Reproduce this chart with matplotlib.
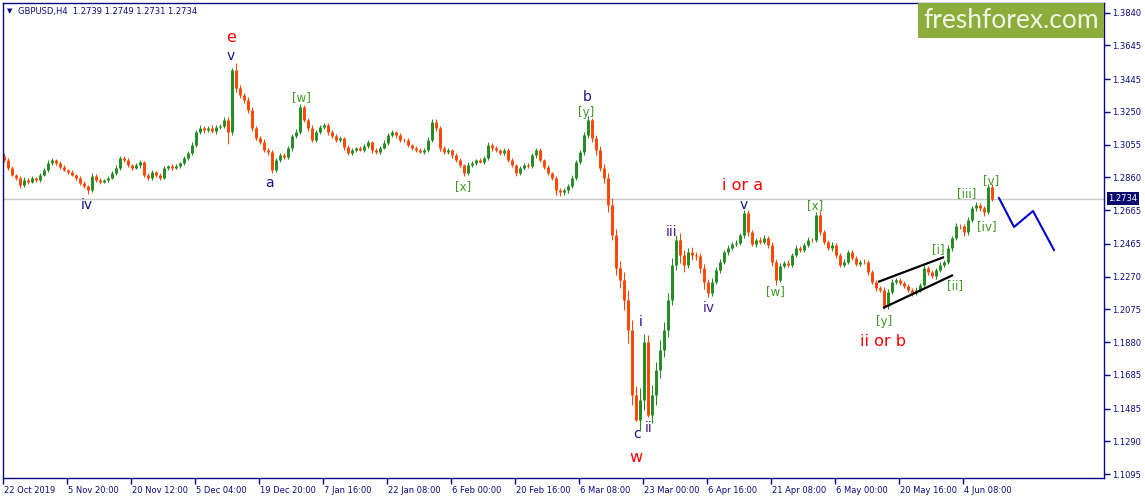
import numpy as np
import matplotlib
matplotlib.use("Agg")
import matplotlib.pyplot as plt
from matplotlib.patches import Rectangle
import matplotlib.transforms as mtransforms

# GBPUSD H4 closes (in pips, 1 value per 4 bars)
first_open = 12990
closes = [
    12964, 12916, 12875, 12857, 12815, 12845, 12833, 12857, 12845, 12875,
    12904, 12946, 12964, 12946, 12922, 12904, 12892, 12875, 12857, 12827,
    12809, 12785, 12869, 12845, 12833, 12845, 12857, 12886, 12916, 12975,
    12964, 12934, 12916, 12934, 12952, 12875, 12857, 12892, 12875, 12857,
    12916, 12928, 12916, 12928, 12946, 12975, 13005, 13053, 13130, 13154,
    13142, 13154, 13136, 13160, 13166, 13202, 13130, 13499, 13392, 13350,
    13321, 13261, 13154, 13095, 13071, 13023, 13011, 12904, 12964, 12993,
    12981, 13035, 13106, 13130, 13280, 13202, 13154, 13083, 13130, 13160,
    13172, 13130, 13106, 13083, 13095, 13041, 13005, 13023, 13035, 13023,
    13047, 13071, 13023, 13011, 13035, 13065, 13112, 13130, 13112, 13083,
    13083, 13053, 13035, 13023, 13011, 13023, 13083, 13190, 13154, 13035,
    13011, 13023, 12993, 12964, 12934, 12886, 12934, 12946, 12964, 12952,
    12975, 13053, 13035, 13023, 13005, 13023, 12964, 12934, 12886, 12916,
    12934, 12928, 12993, 13023, 12964, 12922, 12886, 12857, 12785, 12773,
    12785, 12809, 12857, 12952, 13011, 13112, 13200, 13095, 13023, 12916,
    12857, 12696, 12517, 12321, 12250, 12131, 11952, 11566, 11417, 11536,
    11880, 11447, 11566, 11714, 11833, 11952, 12131, 12339, 12487, 12399,
    12339, 12416, 12399, 12392, 12321, 12238, 12172, 12238, 12309, 12357,
    12416, 12440, 12464, 12470, 12517, 12647, 12535, 12464, 12488, 12476,
    12500, 12458, 12357, 12250, 12333, 12351, 12339, 12399, 12440, 12428,
    12458, 12488, 12488, 12636, 12535, 12476, 12440, 12458, 12399, 12339,
    12357, 12416, 12381, 12345, 12357, 12357, 12297, 12238, 12202, 12190,
    12095, 12178, 12238, 12250, 12232, 12214, 12190, 12172, 12190, 12220,
    12321, 12297, 12273, 12309, 12339, 12357, 12440, 12500, 12571, 12571,
    12535, 12607, 12678, 12696, 12678, 12654, 12803, 12734,
]
# wick lengths in pips above / below the body
wick_up = [
    15, 10, 12, 8, 10, 18, 10, 12, 8, 10,
    12, 15, 10, 8, 10, 12, 8, 10, 8, 10,
    10, 8, 15, 12, 10, 8, 10, 12, 15, 10,
    12, 10, 8, 10, 12, 8, 10, 12, 8, 10,
    10, 8, 12, 10, 8, 12, 10, 15, 12, 15,
    12, 10, 15, 12, 10, 15, 20, 12, 40, 15,
    15, 20, 15, 12, 10, 15, 12, 10, 12, 15,
    10, 12, 15, 20, 15, 12, 10, 15, 12, 10,
    12, 10, 15, 10, 12, 8, 10, 12, 8, 10,
    10, 12, 8, 10, 12, 15, 10, 12, 8, 10,
    10, 12, 8, 10, 12, 10, 15, 15, 20, 10,
    10, 12, 8, 10, 12, 8, 15, 10, 8, 12,
    15, 20, 12, 10, 8, 12, 10, 12, 8, 10,
    10, 12, 15, 10, 12, 8, 10, 8, 10, 12,
    12, 10, 15, 12, 15, 20, 25, 15, 20, 25,
    25, 30, 40, 35, 40, 50, 60, 60, 50, 70,
    50, 40, 60, 50, 60, 50, 40, 40, 30, 40,
    30, 25, 30, 20, 20, 25, 20, 25, 20, 15,
    15, 20, 12, 15, 15, 20, 20, 15, 12, 15,
    15, 12, 15, 20, 15, 12, 15, 12, 15, 12,
    12, 15, 12, 20, 25, 15, 12, 15, 12, 10,
    15, 12, 15, 12, 10, 15, 12, 10, 12, 10,
    15, 20, 15, 12, 10, 12, 10, 12, 15, 12,
    15, 12, 15, 12, 15, 10, 15, 12, 15, 12,
    12, 15, 12, 15, 10, 12, 20, 15,
]
wick_dn = [
    10, 12, 8, 15, 20, 10, 15, 8, 12, 10,
    8, 10, 12, 10, 12, 8, 10, 8, 12, 15,
    12, 25, 10, 12, 10, 8, 12, 8, 10, 12,
    10, 12, 10, 8, 20, 15, 10, 12, 10, 12,
    8, 10, 12, 8, 10, 10, 12, 10, 15, 10,
    15, 12, 10, 15, 12, 10, 70, 15, 25, 20,
    20, 15, 20, 15, 12, 10, 20, 15, 10, 12,
    12, 10, 15, 10, 12, 15, 20, 12, 15, 10,
    10, 15, 10, 12, 10, 15, 12, 10, 12, 8,
    12, 10, 15, 12, 10, 8, 10, 12, 15, 10,
    12, 10, 12, 10, 8, 12, 10, 12, 15, 20,
    12, 10, 15, 12, 10, 20, 10, 12, 10, 8,
    10, 12, 15, 10, 12, 10, 12, 10, 15, 10,
    12, 10, 10, 15, 12, 10, 12, 15, 30, 25,
    20, 15, 12, 10, 12, 15, 20, 25, 30, 20,
    30, 40, 30, 40, 50, 60, 80, 60, 5, 60,
    60, 10, 50, 60, 50, 40, 40, 30, 30, 50,
    40, 20, 30, 25, 30, 40, 25, 20, 15, 20,
    12, 15, 12, 10, 15, 20, 25, 15, 20, 15,
    12, 20, 25, 30, 15, 12, 15, 12, 10, 12,
    10, 12, 12, 15, 20, 15, 12, 15, 20, 15,
    10, 15, 12, 15, 12, 10, 15, 12, 15, 12,
    20, 15, 12, 10, 12, 10, 12, 15, 10, 12,
    12, 15, 12, 15, 10, 12, 10, 15, 12, 20,
    25, 15, 12, 15, 20, 25, 10, 12,
]
bars_per_candle = 4
last_price = 1.2734

price_ticks = [1.3840, 1.3645, 1.3445, 1.3250, 1.3055, 1.2860, 1.2665, 1.2465,
               1.2270, 1.2075, 1.1880, 1.1685, 1.1485, 1.1290, 1.1095]
date_labels = ["22 Oct 2019", "5 Nov 20:00", "20 Nov 12:00", "5 Dec 04:00",
               "19 Dec 20:00", "7 Jan 16:00", "22 Jan 08:00", "6 Feb 00:00",
               "20 Feb 16:00", "6 Mar 08:00", "23 Mar 00:00", "6 Apr 16:00",
               "21 Apr 08:00", "6 May 00:00", "20 May 16:00", "4 Jun 08:00"]
bars_per_label = 64

# wedge lines (bar, price)
upper_x = [875, 941]
upper_y = [1.2238, 1.2386]
lower_x = [880, 950]
lower_y = [1.2083, 1.2279]
# forecast path
fc_x = [996, 1011, 1030, 1051]
fc_y = [1.2737, 1.2565, 1.2660, 1.2428]

# wave labels: text, bar, price, style
wave_labels = [
    ("iv", 84, 1.2696, "navy"), ("e", 228, 1.3690, "red"), ("v", 228, 1.3582, "navy"),
    ("a", 266, 1.2827, "navy"), ("[w]", 298, 1.3338, "green"), ("[x]", 460, 1.2803, "green"),
    ("b", 584, 1.3338, "navy"), ("[y]", 583, 1.3249, "green"), ("iii", 669, 1.2535, "purple"),
    ("i or a", 740, 1.2809, "red"), ("v", 741, 1.2696, "navy"), ("[x]", 812, 1.2690, "green"),
    ("[w]", 772, 1.2178, "green"), ("iv", 706, 1.2083, "purple"), ("i", 638, 1.2000, "navy"),
    ("c", 634, 1.1333, "navy"), ("ii", 646, 1.1369, "purple"), ("w", 633, 1.1191, "red"),
    ("[y]", 881, 1.2000, "green"), ("ii or b", 880, 1.1881, "red"), ("[i]", 935, 1.2428, "green"),
    ("[ii]", 952, 1.2214, "green"), ("[iii]", 964, 1.2767, "green"), ("[iv]", 984, 1.2565, "green"),
    ("[v]", 988, 1.2839, "green"),
]
label_style = {
    "red": ("#ff0000", 11.5),
    "navy": ("#14148c", 10),
    "purple": ("#4b1a96", 10),
    "green": ("#3f9a24", 8.5),
}

frame_col = "#0a0a80"

fig = plt.figure(figsize=(11.45, 4.98), dpi=100)
ax = fig.add_axes([3 / 1145, 20 / 498, 1101 / 1145, 475 / 498])

# candles: open = previous close
c = np.array(closes) / 10000.0
o = np.concatenate([[first_open / 10000.0], c[:-1]])
top = np.maximum(o, c)
bot = np.minimum(o, c)
hi = top + np.array(wick_up) / 10000.0
lo = bot - np.array(wick_dn) / 10000.0
x = np.arange(len(c)) * bars_per_candle + 1
cols = np.where(c > o, "#228b22", "#ff4500")
ax.vlines(x, lo, hi, colors=cols, linewidth=0.75)
ax.vlines(x, bot, top, colors=cols, linewidth=2.1)

# current price line
ax.axhline(last_price, color="#c8c8c8", linewidth=1, zorder=0)

# wedge and forecast
ax.plot(upper_x, upper_y, color="black", linewidth=1.6, solid_capstyle="butt")
ax.plot(lower_x, lower_y, color="black", linewidth=1.6, solid_capstyle="butt")
ax.plot(fc_x, fc_y, color="#0000cd", linewidth=1.5)

for txt, bx, py, kind in wave_labels:
    col, fs = label_style[kind]
    ax.text(bx, py, txt, color=col, fontsize=fs, ha="center", va="center")

ax.set_xlim(0, 1101)
ax.set_ylim(1.10715, 1.38977)

# price axis on the right
ax.yaxis.tick_right()
ax.set_yticks(price_ticks)
ax.set_yticklabels(["%.4f" % p for p in price_ticks])
ax.tick_params(axis="y", direction="out", length=4, width=1, color=frame_col,
               labelsize=6, labelcolor=frame_col, pad=2)

# time axis
ax.set_xticks(np.arange(len(date_labels)) * bars_per_label)
ax.set_xticklabels(date_labels)
for lbl in ax.get_xticklabels():
    lbl.set_ha("left")
ax.tick_params(axis="x", direction="out", length=4, width=1, color=frame_col,
               labelsize=6, labelcolor=frame_col, pad=2)
offset = mtransforms.ScaledTranslation(1 / 100, 0, fig.dpi_scale_trans)
for lbl in ax.get_xticklabels():
    lbl.set_transform(lbl.get_transform() + offset)

for s in ax.spines.values():
    s.set_color(frame_col)
    s.set_linewidth(1)

# header
ax.text(0.004, 0.982, "\u25bc", transform=ax.transAxes, fontsize=5, color=frame_col,
        ha="left", va="center")
ax.text(0.014, 0.982, "GBPUSD,H4  1.2739 1.2749 1.2731 1.2734", transform=ax.transAxes,
        fontsize=6, color=frame_col, ha="left", va="center")

# last price tag
ax.annotate("%.4f" % last_price, xy=(1, last_price), xycoords=("axes fraction", "data"),
            xytext=(3, 0), textcoords="offset points", fontsize=6, color="white",
            ha="left", va="center", annotation_clip=False,
            bbox=dict(boxstyle="square,pad=0.2", facecolor="#0a0a6e", edgecolor="none"))

# logo
ax.add_patch(Rectangle((0.831, 0.9263), 0.169, 0.0737, transform=ax.transAxes,
                       facecolor="#8cac3c", edgecolor="none", zorder=5))
ax.text(0.9155, 0.963, "freshforex.com", transform=ax.transAxes, fontsize=19,
        family="Lato", color="#f2f5e6", ha="center", va="center", zorder=6)

fig.savefig("out.png", dpi=100)
